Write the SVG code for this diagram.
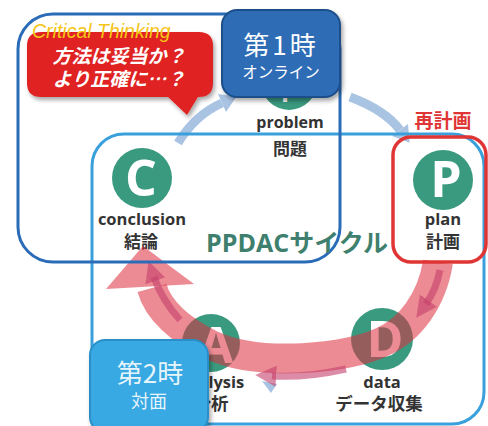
<svg xmlns="http://www.w3.org/2000/svg" width="488" height="426" viewBox="0 0 488 426">
<defs>
<style>
.lbl{font-family:"Open Sans","Noto Sans CJK JP",sans-serif;font-weight:bold;fill:#333;text-anchor:middle}
.jp{font-family:"Noto Sans CJK JP",sans-serif;font-weight:bold;fill:#333;text-anchor:middle}
.circ{fill:#3a9a80}
.letter{font-family:"Open Sans","Liberation Sans",sans-serif;font-weight:bold;fill:#fff;text-anchor:middle;font-size:50px}
.boxtxt{font-family:"Noto Sans CJK JP",sans-serif;fill:#fff;text-anchor:middle}
.blueArrow{fill:none;stroke:#a9c3e3;stroke-width:9}
.innerArrow{fill:none;stroke:#c4406a;stroke-width:7;stroke-opacity:0.6}
</style>
<marker id="ih" viewBox="0 0 10 10" refX="2" refY="5" markerWidth="3" markerHeight="3" orient="auto" markerUnits="strokeWidth">
<path d="M0,0 L10,5 L0,10 z" fill="#c4406a" fill-opacity="0.6"/>
</marker>
<filter id="sh" x="-10%" y="-10%" width="130%" height="140%">
<feDropShadow dx="2" dy="3" stdDeviation="2" flood-color="#000" flood-opacity="0.35"/>
</filter>
</defs>
<rect width="488" height="426" fill="#fff"/>

<g id="connectors">
<path class="blueArrow" d="M178,143 Q195,115 222,103"/>
<polygon points="236.6,96.6 226,112 218,94" fill="#a9c3e3"/>
<path class="blueArrow" d="M350,97 Q385,110 400,130"/>
<polygon points="409.6,142.8 408,124 392,136" fill="#a9c3e3"/>
<polygon points="262,381 277,384 271,393" fill="#a9c3e3"/>
</g>

<g id="node-problem">
<circle class="circ" cx="289" cy="82" r="28"/>
<text class="letter" x="289" y="102" style="font-size:26px">P</text>
<text class="lbl" x="290" y="128" font-size="16">problem</text>
<text class="jp" x="290" y="155" font-size="17">問題</text>
</g>

<g id="node-conclusion">
<circle class="circ" cx="142" cy="178" r="30"/>
<text class="letter" x="141" y="196">C</text>
<text class="lbl" x="142" y="225" font-size="16.5">conclusion</text>
<text class="jp" x="141" y="248" font-size="17">結論</text>
</g>

<g id="node-plan">
<circle class="circ" cx="443" cy="180" r="30"/>
<text class="letter" x="446" y="197">P</text>
<text class="lbl" x="443" y="225" font-size="16.5">plan</text>
<text class="jp" x="443" y="248" font-size="17">計画</text>
</g>

<g id="node-data">
<circle class="circ" cx="382" cy="339" r="31"/>
<text class="letter" x="385" y="357">D</text>
<text class="lbl" x="382" y="388" font-size="16.5">data</text>
<text class="jp" x="379" y="410" font-size="17.5">データ収集</text>
</g>

<g id="node-analysis">
<circle class="circ" cx="211" cy="343" r="29"/>
<text class="letter" x="216" y="363">A</text>
<text class="lbl" x="211" y="388" font-size="16.5">analysis</text>
<text class="jp" x="211" y="410" font-size="17.5">分析</text>
</g>

<g id="cycle-arrow">
<path d="M438,262 C432,300 410,330 382,342 C350,358 260,368 211,345 C180,330 158,310 152,288" fill="none" stroke="#de3040" stroke-opacity="0.56" stroke-width="30"/>
<polygon points="143,246 106,289 194,284" fill="#de3040" fill-opacity="0.56"/>
<path class="innerArrow" d="M440,270 Q436,290 426,304" marker-end="url(#ih)"/>
<path class="innerArrow" d="M346,369 Q305,378 272,376" marker-end="url(#ih)"/>
<path class="innerArrow" d="M180,320 Q162,300 154,277" marker-end="url(#ih)"/>
</g>

<g id="frames">
<rect x="92" y="134" width="392" height="290" rx="32" fill="none" stroke="#3aa0dc" stroke-width="3"/>
<rect x="18" y="14" width="322" height="248" rx="35" fill="none" stroke="#2a6cb8" stroke-width="3"/>
<rect x="393" y="137" width="93" height="125" rx="18" fill="none" stroke="#e03535" stroke-width="3.5"/>
<text x="443" y="128" font-family="Noto Sans CJK JP,sans-serif" font-weight="bold" font-size="19" fill="#e03535" text-anchor="middle">再計画</text>
<text x="297" y="252" font-family="Open Sans,Noto Sans CJK JP,sans-serif" font-weight="bold" font-size="25" fill="#3e7f6e" text-anchor="middle">PPDACサイクル</text>
</g>

<g id="box-session1">
<rect x="222" y="10" width="118" height="87" rx="15" fill="#2d6cb5" stroke="#1d4f8a" stroke-width="2" filter="url(#sh)"/>
<text class="boxtxt" x="281" y="55" font-size="26" letter-spacing="3">第1時</text>
<text class="boxtxt" x="281" y="78" font-size="15.5">オンライン</text>
</g>

<g id="box-session2">
<rect x="90" y="340" width="118" height="92" rx="15" fill="#38a9e2" stroke="#2a8fc8" stroke-width="2" filter="url(#sh)"/>
<text class="boxtxt" x="150" y="383" font-size="26" fill-opacity="0.9">第2時</text>
<text class="boxtxt" x="149" y="408" font-size="18" fill-opacity="0.9">対面</text>
</g>

<g id="bubble">
<path d="M41,32 H199 Q213,32 213,46 V83 Q213,97 199,97 H198 L187,115 L168,97 H41 Q27,97 27,83 V46 Q27,32 41,32 Z" fill="#e02424" filter="url(#sh)"/>
<text x="119" y="63" font-family="Noto Sans CJK JP,sans-serif" font-weight="bold" font-style="italic" font-size="19" fill="#fff" text-anchor="middle">方法は妥当か？</text>
<text x="119" y="86" font-family="Noto Sans CJK JP,sans-serif" font-weight="bold" font-style="italic" font-size="19" fill="#fff" text-anchor="middle">より正確に…？</text>
<text x="32" y="38" font-family="Liberation Sans,sans-serif" font-style="italic" font-size="19.5" fill="#f5c518">Critical Thinking</text>
</g>
</svg>
